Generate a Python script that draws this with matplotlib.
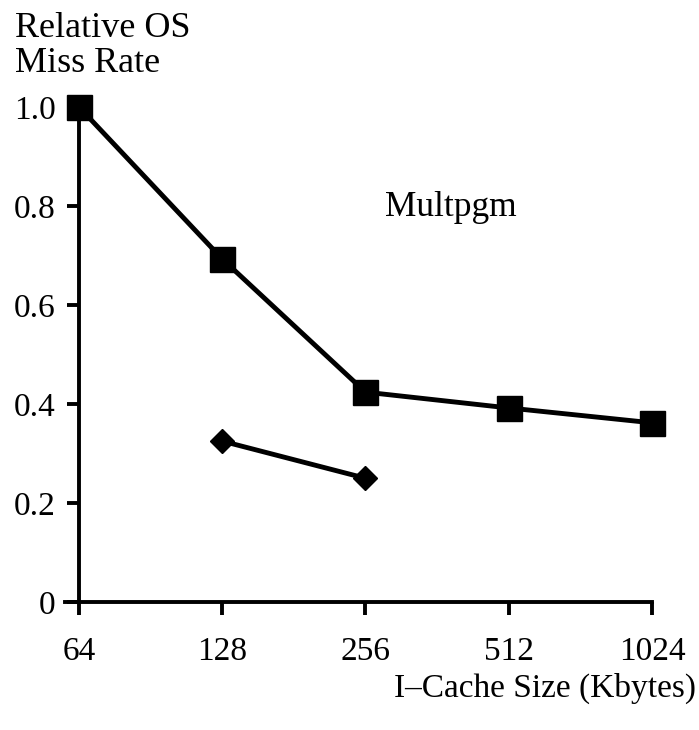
import numpy as np
import matplotlib
matplotlib.use("Agg")
import matplotlib.pyplot as plt

# cache sizes in Kbytes and relative miss rates
cache_sizes = [64, 128, 256, 512, 1024]
multpgm_rate = [1.0, 0.693, 0.424, 0.392, 0.362]
other_sizes = [128, 256]
other_rate = [0.325, 0.25]
y_ticks = [0, 0.2, 0.4, 0.6, 0.8, 1.0]
y_tick_labels = ["0", "0.2", "0.4", "0.6", "0.8", "1.0"]

plt.rcParams['font.family'] = ['Liberation Serif', 'DejaVu Serif']

fig = plt.figure(figsize=(6.99, 7.30), dpi=100)
ax = fig.add_axes([65 / 699, 128 / 730, 587 / 699, 495 / 730])

ax.plot(np.log2(cache_sizes), multpgm_rate, color='black', lw=3.5,
        marker='s', markersize=18, clip_on=False, zorder=3)
ax.plot(np.log2(other_sizes), other_rate, color='black', lw=3.5,
        marker='D', markersize=12, clip_on=False, zorder=3)

ax.text(8.136, 0.78, "Multpgm", fontsize=25.5, ha='left', va='baseline')

ax.set_xlim(6 - 14 / 143.25, 10)
ax.set_ylim(0, 1.0)
ax.spines['left'].set_position(('data', 6))
ax.spines['top'].set_visible(False)
ax.spines['right'].set_visible(False)
ax.spines['left'].set_linewidth(2.8)
ax.spines['bottom'].set_linewidth(2.8)

ax.set_xticks(np.log2(cache_sizes))
ax.set_xticklabels([str(c) for c in cache_sizes])
ax.set_yticks(y_ticks)
ax.set_yticklabels(y_tick_labels)
ax.tick_params(axis='both', direction='out', length=9, width=2.8, labelsize=24)
ax.tick_params(axis='x', pad=16)
ax.tick_params(axis='y', pad=8)

fig.text(0.0215, 1 - 37 / 730, "Relative OS", fontsize=26, ha='left',
         va='baseline')
fig.text(0.0215, 1 - 72 / 730, "Miss Rate", fontsize=26, ha='left',
         va='baseline')
fig.text(0.9957, 0.0575, "I\u2013Cache Size (Kbytes)", fontsize=24,
         ha='right', va='center')

fig.savefig("out.png", dpi=100)
